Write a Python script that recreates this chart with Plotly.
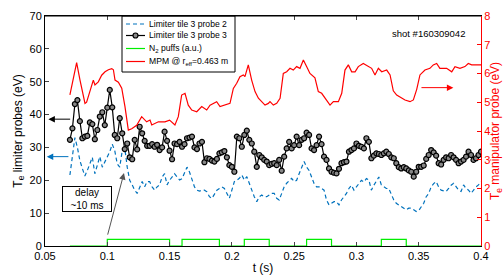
import numpy as np
import plotly.graph_objects as go

# ---------------- data ----------------
t_probe = [round(0.07 + 0.002 * i, 3) for i in range(166)]

te_probe3 = [32.3, 35.8, 43.2, 44.4, 38, 32.8, 33.3, 33.5, 37.6, 37.1,
             32.5, 35.3, 39.4, 40.7, 36.8, 42.1, 47.5, 42.2, 33.8, 32.8,
             38.9, 34.3, 29.5, 31.2, 27, 26.4, 32.3, 29.4, 36.3, 34.3,
             32, 30.5, 30.5, 31, 30.2, 30.8, 29.2, 30, 34.8, 32,
             29, 26.4, 31.2, 31, 31.7, 30.2, 31, 32.8, 33, 33.3,
             30, 29.5, 31.2, 31.7, 25.5, 26.7, 26.5, 26, 25.7, 26.5,
             28.2, 28.5, 28.9, 27, 24.6, 24.1, 22.6, 33.3, 32.8, 30.2,
             33.8, 35.1, 32.3, 31.2, 28.7, 24.1, 27.7, 27, 26.2, 25.7,
             24.6, 25, 25.2, 24.6, 26.2, 22.9, 27.2, 29.7, 31.7, 29.7,
             30.7, 33.3, 30.7, 32.3, 32.8, 34.5, 33.8, 29.7, 29.2, 30.7,
             33.3, 31, 27.2, 26.2, 23.6, 22.6, 22.3, 22.1, 23.5, 25.2,
             25.5, 25.7, 28.7, 29.2, 29.7, 31.2, 30.5, 30.2, 29.7, 32.8,
             31.7, 26.7, 27.5, 28.2, 28, 27.7, 28.2, 28.7, 28, 27,
             26.7, 25.2, 24, 23.6, 24, 23.6, 23, 22.6, 21.1, 22.6,
             24.1, 24.1, 24.5, 26.5, 27.7, 29.2, 28.5, 27.5, 25.2, 24.8,
             26.2, 27, 26.7, 27.7, 27, 26.2, 25.2, 25.7, 26.2, 27.2,
             28.7, 27.7, 26.2, 26.7, 27.7, 28.7]

te_probe2 = [21.6, 27, 33, 30, 26, 23.6, 21.3, 23, 25, 27,
             22, 25, 27.2, 24, 25.7, 27, 28.7, 31, 29, 25,
             24, 29, 30, 24, 20, 18.6, 17, 16, 18, 19.6,
             18, 19.6, 19.6, 18, 17, 18, 18.6, 21, 22, 18.6,
             20, 21, 22, 21, 20.1, 20.5, 22, 24, 22.5, 20,
             18, 17, 16.7, 17, 17, 16.5, 15, 14.5, 16, 17,
             17.5, 18, 17.5, 16, 14.5, 17, 19.6, 20, 20.6, 21.6,
             20.1, 21.1, 19, 17, 15, 13.5, 15, 15.5, 15, 15,
             15.5, 16, 16, 14.5, 14, 16, 18, 19.1, 20, 20.6,
             19.6, 20, 22, 24, 25.7, 24, 23, 21, 19, 18,
             18, 17.5, 17, 14, 12.5, 13, 13.5, 13.5, 12.5, 14,
             15, 16, 17.5, 18.5, 17, 18, 19, 20, 19.5, 20.5,
             20.1, 17, 18.5, 19.6, 21, 18.6, 18, 17.5, 17.5, 15.5,
             14, 13, 12.5, 12, 11.5, 11, 11.5, 11.5, 11, 10.5,
             10.8, 12, 13, 15, 16, 18, 19, 19.6, 18, 17,
             16.8, 16.6, 17.5, 18.5, 19.1, 18, 17, 16.6, 18.6, 17.5,
             17, 16, 17, 18, 18.6, 19.6]

t_mpm = [0.070, 0.0722, 0.0754, 0.0781, 0.0808, 0.0821, 0.0834, 0.0861, 0.0888, 0.0901,
         0.0928, 0.0955, 0.0982, 0.1009, 0.1036, 0.1049, 0.1062, 0.1089, 0.1116, 0.1142,
         0.1169, 0.1196, 0.1236, 0.1276, 0.1316, 0.1343, 0.1357, 0.141, 0.1463, 0.150,
         0.1543, 0.157, 0.1597, 0.1624, 0.165, 0.1678, 0.1718, 0.1758, 0.1798, 0.1825,
         0.1878, 0.1905, 0.1945, 0.1985, 0.2012, 0.2039, 0.2065, 0.2092, 0.2105, 0.2132,
         0.2159, 0.2186, 0.2213, 0.224, 0.2266, 0.2293, 0.2306, 0.2333, 0.236, 0.2387,
         0.2413, 0.244, 0.2467, 0.2493, 0.252, 0.2547, 0.2574, 0.26, 0.2627, 0.2667,
         0.2694, 0.2721, 0.2748, 0.2788, 0.2815, 0.2855, 0.2882, 0.2908, 0.2935, 0.2962,
         0.2989, 0.3015, 0.3055, 0.3095, 0.3122, 0.3149, 0.3176, 0.3203, 0.3243, 0.327,
         0.3296, 0.3323, 0.3363, 0.339, 0.343, 0.3457, 0.3484, 0.351, 0.355, 0.359,
         0.3617, 0.3644, 0.367, 0.3724, 0.3765, 0.3791, 0.3831, 0.3871, 0.3898, 0.3925,
         0.3965, 0.400]
te_mpm = [5.26, 5.7, 6.38, 5.77, 5.14, 4.96, 5.0, 5.43, 5.77, 5.6,
          5.71, 5.94, 6.06, 6.13, 6.17, 6.13, 5.77, 5.7, 5.49, 4.85,
          4.03, 4.08, 4.2, 4.5, 4.32, 4.38, 4.21, 4.32, 4.32, 4.38,
          4.21, 4.5, 5.25, 5.31, 4.9, 4.73, 4.67, 4.85, 4.73, 4.9,
          5.02, 4.85, 4.9, 4.96, 5.48, 5.66, 5.89, 5.95, 5.89, 6.3,
          5.77, 5.37, 5.14, 5.02, 4.9, 4.96, 5.02, 4.9, 4.96, 5.14,
          6.0, 6.06, 6.18, 6.12, 6.24, 6.18, 6.47, 6.24, 6.0, 5.85,
          5.37, 5.31, 5.14, 4.9, 5.02, 5.02, 5.31, 6.12, 6.3, 6.06,
          6.06, 6.24, 6.35, 6.24, 6.18, 5.95, 6.18, 6.06, 6.12, 5.95,
          5.4, 5.25, 5.14, 5.08, 5.02, 5.08, 5.45, 5.95, 6.12, 6.18,
          6.3, 6.35, 6.18, 6.18, 6.06, 6.24, 6.18, 6.24, 6.35, 6.3,
          6.3, 6.3]

t_puff = [0.07, 0.1, 0.1, 0.15, 0.15, 0.16, 0.16, 0.19, 0.19, 0.21, 0.21, 0.23, 0.23,
          0.26, 0.26, 0.28, 0.28, 0.32, 0.32, 0.34, 0.34, 0.4]
puff = [0, 0, 2, 2, 0, 0, 2, 2, 0, 0, 2, 2, 0, 0, 2, 2, 0, 0, 2, 2, 0, 0]

x_ticks = [0.05, 0.1, 0.15, 0.2, 0.25, 0.3, 0.35, 0.4]
x_ticklabels = ["0.05", "0.1", "0.15", "0.2", "0.25", "0.3", "0.35", "0.4"]
y_ticks = [0, 10, 20, 30, 40, 50, 60, 70]
y2_ticks = [0, 1, 2, 3, 4, 5, 6, 7, 8]

legend_labels = ["Limiter tile 3 probe 2", "Limiter tile 3 probe 3",
                 "N<sub>2</sub> puffs (a.u.)", "MPM @ r<sub>eff</sub>=0.463 m"]

FONT = "Liberation Sans, Arial, sans-serif"
BLUE = "#0072BD"
GREEN = "#00ee00"
RED = "#ff0000"
DASH = "4px,3px"

fig = go.Figure()
fig.add_trace(go.Scatter(x=t_probe, y=te_probe2, mode="lines",
                         line=dict(color=BLUE, width=1.2, dash=DASH),
                         name=legend_labels[0]))
fig.add_trace(go.Scatter(x=t_probe, y=te_probe3, mode="lines+markers",
                         line=dict(color="black", width=1.2),
                         marker=dict(symbol="circle", size=5, color="#888888",
                                     line=dict(color="black", width=1.2)),
                         name=legend_labels[1]))
fig.add_trace(go.Scatter(x=t_puff, y=puff, mode="lines",
                         line=dict(color=GREEN, width=1.2),
                         name=legend_labels[2]))
fig.add_trace(go.Scatter(x=t_mpm, y=te_mpm, mode="lines", yaxis="y2",
                         line=dict(color=RED, width=1.2),
                         name=legend_labels[3]))

# ---- helpers: plot area in px ----
PW, PH = 436.0, 230.0
def px2paper(px, py):
    return (px - 45) / PW, 1 - (py - 16) / PH

annos = [
    dict(x=0.0837, y=14.2, xref="x", yref="y", text="delay<br>~10 ms", showarrow=False,
         font=dict(size=10, color="black", family=FONT), bordercolor="black", borderwidth=1,
         bgcolor="white", width=46, height=22, borderpad=1),
    dict(x=0.1134, y=22.2, ax=0.1, ay=3, xref="x", yref="y", axref="x", ayref="y",
         text="", showarrow=True, arrowhead=2, arrowsize=1.3, arrowwidth=1, arrowcolor="#555555"),
    dict(x=0.0527, y=38.6, ax=0.0714, ay=38.6, xref="x", yref="y", axref="x", ayref="y",
         text="", showarrow=True, arrowhead=2, arrowsize=1.3, arrowwidth=1, arrowcolor="black"),
    dict(x=0.0514, y=27.2, ax=0.070, ay=27.2, xref="x", yref="y", axref="x", ayref="y",
         text="", showarrow=True, arrowhead=2, arrowsize=1.3, arrowwidth=1, arrowcolor=BLUE),
    dict(x=0.3778, y=48.2, ax=0.351, ay=48.2, xref="x", yref="y", axref="x", ayref="y",
         text="", showarrow=True, arrowhead=2, arrowsize=1.3, arrowwidth=1, arrowcolor=RED),
    dict(x=0.3575, y=64.8, xref="x", yref="y", text="shot #160309042", showarrow=False,
         font=dict(size=9.5, color="black", family=FONT)),
    # right axis title, hugging the right edge like the original
    dict(x=px2paper(496, 0)[0], y=0.5, xref="paper", yref="paper", textangle=-90,
         text="T<sub>e</sub> manipulator probe (eV)", showarrow=False,
         xanchor="center", yanchor="middle",
         font=dict(size=12, color=RED, family=FONT)),
]

# ---- manual legend (compact, like the original) ----
shapes = []
bx0, by1 = px2paper(122, 16)
bx1, by0 = px2paper(235, 72)
shapes.append(dict(type="rect", xref="paper", yref="paper", x0=bx0, x1=bx1, y0=by0, y1=by1,
                   line=dict(color="black", width=1), fillcolor="white", layer="above"))
rows_py = [24, 35.5, 48.5, 61.5]
styles = [dict(color=BLUE, width=1.2, dash=DASH), dict(color="black", width=1.2),
          dict(color=GREEN, width=1.2), dict(color=RED, width=1.2)]
for lab, py, st in zip(legend_labels, rows_py, styles):
    lx0, ly = px2paper(126, py)
    lx1, _ = px2paper(145, py)
    shapes.append(dict(type="line", xref="paper", yref="paper", x0=lx0, x1=lx1, y0=ly, y1=ly,
                       line=st, layer="above"))
    tx, _ = px2paper(146.5, py)
    annos.append(dict(x=tx, y=ly, xref="paper", yref="paper", xanchor="left", yanchor="middle",
                      text=lab, showarrow=False, font=dict(size=8.6, color="black", family=FONT)))
mx, my = px2paper(135.5, rows_py[1])
shapes.append(dict(type="circle", xref="paper", yref="paper", xsizemode="pixel", ysizemode="pixel",
                   xanchor=mx, yanchor=my, x0=-2.5, x1=2.5, y0=-2.5, y1=2.5,
                   fillcolor="#888888", line=dict(color="black", width=1.2), layer="above"))
# top border line
shapes.append(dict(type="line", xref="paper", yref="paper", x0=0, x1=1, y0=1, y1=1,
                   line=dict(color="black", width=1)))

fig.update_layout(
    width=503, height=276,
    margin=dict(l=45, r=22, t=16, b=30),
    paper_bgcolor="white", plot_bgcolor="white",
    font=dict(family=FONT, size=11, color="black"),
    showlegend=False,
    xaxis=dict(range=[0.05, 0.4], tickvals=x_ticks, ticktext=x_ticklabels,
               ticks="inside", ticklen=4, showline=True, linecolor="black", linewidth=1,
               mirror="ticks", showgrid=False, zeroline=False, automargin=False,
               title=dict(text="t (s)", font=dict(size=12), standoff=2),
               tickfont=dict(size=11)),
    yaxis=dict(range=[0, 70], tickvals=y_ticks, ticks="inside", ticklen=4,
               showline=True, linecolor="black", linewidth=1, showgrid=False,
               zeroline=False, tickfont=dict(size=11), automargin=False,
               title=dict(text="T<sub>e</sub> limiter probes (eV)", font=dict(size=12), standoff=4)),
    yaxis2=dict(range=[0, 8], tickvals=y2_ticks, overlaying="y", side="right",
                ticks="inside", ticklen=4, showline=True, linecolor=RED, linewidth=1,
                tickcolor=RED, tickfont=dict(size=11, color=RED),
                showgrid=False, zeroline=False, automargin=False),
    annotations=annos,
    shapes=shapes,
)

fig.write_html("out.html", config={"displayModeBar": False},
               post_script="document.body.style.margin='0';document.body.style.overflow='hidden';")
